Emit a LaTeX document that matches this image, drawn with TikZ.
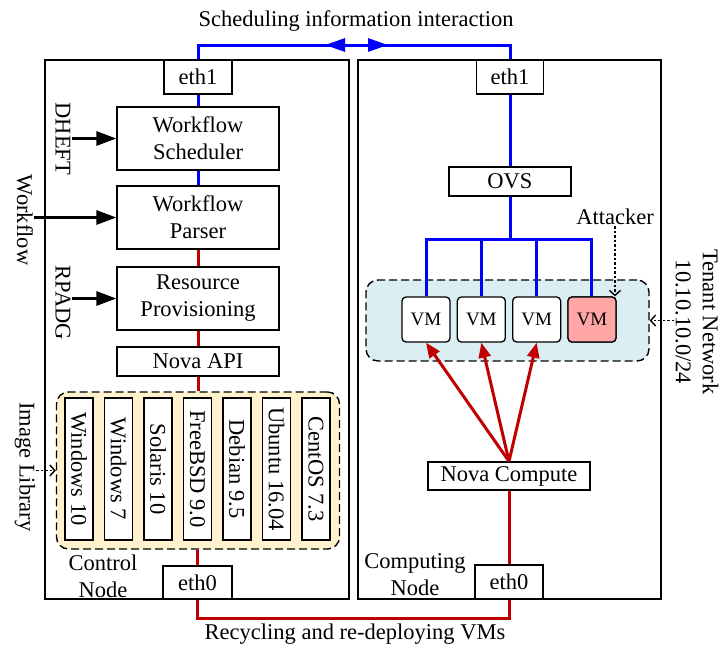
\documentclass[tikz,border=0pt]{standalone}
\usepackage{fontspec}
\setmainfont{Liberation Serif}
\usetikzlibrary{arrows.meta}
\definecolor{linkblue}{RGB}{0,0,255}
\definecolor{linkred}{RGB}{192,0,0}
\definecolor{tenantfill}{RGB}{218,238,243}
\definecolor{libfill}{RGB}{255,242,204}
\definecolor{attfill}{RGB}{255,166,166}

\begin{document}
\begin{tikzpicture}[x=1pt, y=-1pt,
    font=\fontsize{22.5}{27}\selectfont,
    box/.style={draw, line width=1.3pt, fill=white, align=center, inner sep=0pt},
    osbox/.style={box, minimum width=142pt, minimum height=28pt, rotate=-90},
    vmbox/.style={box, rounded corners=4pt, minimum width=48pt, minimum height=45pt, font=\fontsize{19}{22}\selectfont},
    group/.style={draw, dash pattern=on 8pt off 4pt, line width=1.4pt, rounded corners=12pt, inner sep=0pt},
    side/.style={rotate=-90, align=center, inner sep=1pt},
    label/.style={align=center, inner sep=1pt},
    bl/.style={draw=linkblue, line width=3pt},
    rd/.style={draw=linkred, line width=3pt},
    feed/.style={line width=3pt, -{Triangle[length=20pt,width=14pt]}},
    hint/.style={line width=1.4pt, dash pattern=on 2.5pt off 2pt, -{Straight Barb[length=5pt,width=11pt]}}
]
    \useasboundingbox (0,0) rectangle (721,648);

    % Nodi fisici
    \draw[line width=1.8pt] (45,60) rectangle (349,599);
    \draw[line width=1.8pt] (358,60) rectangle (661,599);

    % Gruppi tratteggiati
    \node[group, fill=libfill, minimum width=283pt, minimum height=157pt] (lib) at (198,470.5) {};
    \node[group, fill=tenantfill, minimum width=283pt, minimum height=81pt] (tenant) at (507.5,320.5) {};

    % Control node
    \node[box, minimum width=68pt, minimum height=34pt] (eth1L) at (198,77) {eth1};
    \node[box, minimum width=162pt, minimum height=63pt] (ws) at (198,138.5) {Workflow\\Scheduler};
    \node[box, minimum width=162pt, minimum height=63pt] (wp) at (198,217.5) {Workflow\\Parser};
    \node[box, minimum width=162pt, minimum height=63pt] (rp) at (198,298.5) {Resource\\Provisioning};
    \node[box, minimum width=162pt, minimum height=29pt] (api) at (198,361.5) {Nova API};
    \foreach \name [count=\i] in {Windows 10, Windows 7, Solaris 10, FreeBSD 9.0, Debian 9.5, Ubuntu 16.04, CentOS 7.3}
        \node[osbox] (os\i) at ({79+39.5*(\i-1)},469) {\name};
    \node[box, minimum width=69pt, minimum height=33pt] (eth0L) at (197.5,582.5) {eth0};
    \node[label] (ctrl) at (103,576) {Control\\Node};

    % Computing node
    \node[box, minimum width=67pt, minimum height=34pt] (eth1R) at (510,77) {eth1};
    \node[box, minimum width=122pt, minimum height=29pt] (ovs) at (510,181.5) {OVS};
    \foreach \i in {1,...,4}
        \node[vmbox] (vm\i) at ({426+55.33*(\i-1)},319.5) {VM};
    \node[vmbox, fill=attfill] at (vm4) {VM};
    \node[box, minimum width=162pt, minimum height=28pt] (nc) at (509,476) {Nova Compute};
    \node[box, minimum width=68pt, minimum height=34pt] (eth0R) at (509,582) {eth0};
    \node[label] (comp) at (415,575) {Computing\\Node};

    % Etichette esterne
    \node[label] (top) at (356,21) {Scheduling information interaction};
    \node[label] (bottom) at (355,634) {Recycling and re-deploying VMs};
    \node[side] (dheft) at (63,139) {DHEFT};
    \node[side] (wflow) at (25,220) {Workflow};
    \node[side] (rpadg) at (63,303) {RPADG};
    \node[side] (imglib) at (25,467) {Image Library};
    \node[label] (att) at (615,217) {Attacker};
    \node[side] (tnet) at (697,322) {Tenant Network\\10.10.10.0/24};

    % Linee blu (eth1)
    \coordinate (bus) at (355,45);
    \coordinate (arrL) at (325,45);
    \coordinate (arrR) at (388,45);
    \draw[bl] (eth1L.north) |- (bus) -| (eth1R.north);
    \draw[bl, {Triangle[length=20pt,width=13pt]}-{Triangle[length=20pt,width=13pt]}] (arrL) -- (arrR);
    \draw[bl] (eth1L.south) -- (ws.north);
    \draw[bl] (ws.south) -- (wp.north);
    \draw[bl] (eth1R.south) -- (ovs.north);
    \coordinate (fork) at (510,239);
    \draw[bl] (ovs.south) -- (fork);
    \draw[bl] (vm1.north) |- (fork) -| (vm4.north);
    \draw[bl] (vm2.north) -- (vm2.north |- fork);
    \draw[bl] (vm3.north) -- (vm3.north |- fork);

    % Linee rosse (eth0)
    \draw[rd] (wp.south) -- (rp.north);
    \draw[rd] (rp.south) -- (api.north);
    \draw[rd] (api.south) -- (lib.north -| api.south);
    \draw[rd] (lib.south -| eth0L.north) -- (eth0L.north);
    \coordinate (rbus) at (355,618);
    \draw[rd] (eth0L.south) |- (rbus) -| (eth0R.south);
    \draw[rd] (nc.south) -- (eth0R.north);
    \foreach \i in {1,2,3}
        \draw[rd, -{Triangle[length=15pt,width=12pt]}] (nc.north) -- (vm\i.south);

    % Frecce di ingresso
    \draw[feed] (dheft.north |- ws.west) -- (ws.west);
    \draw[feed] (wflow.north |- wp.west) -- (wp.west);
    \draw[feed] (rpadg.north |- rp.west) -- (rp.west);

    % Frecce puntinate
    \draw[hint] (imglib.north |- lib.west) -- (lib.west);
    \draw[hint] (att.south) -- (att.south |- vm4.north);
    \draw[hint] (tnet.south |- tenant.east) -- (tenant.east);
\end{tikzpicture}
\end{document}
